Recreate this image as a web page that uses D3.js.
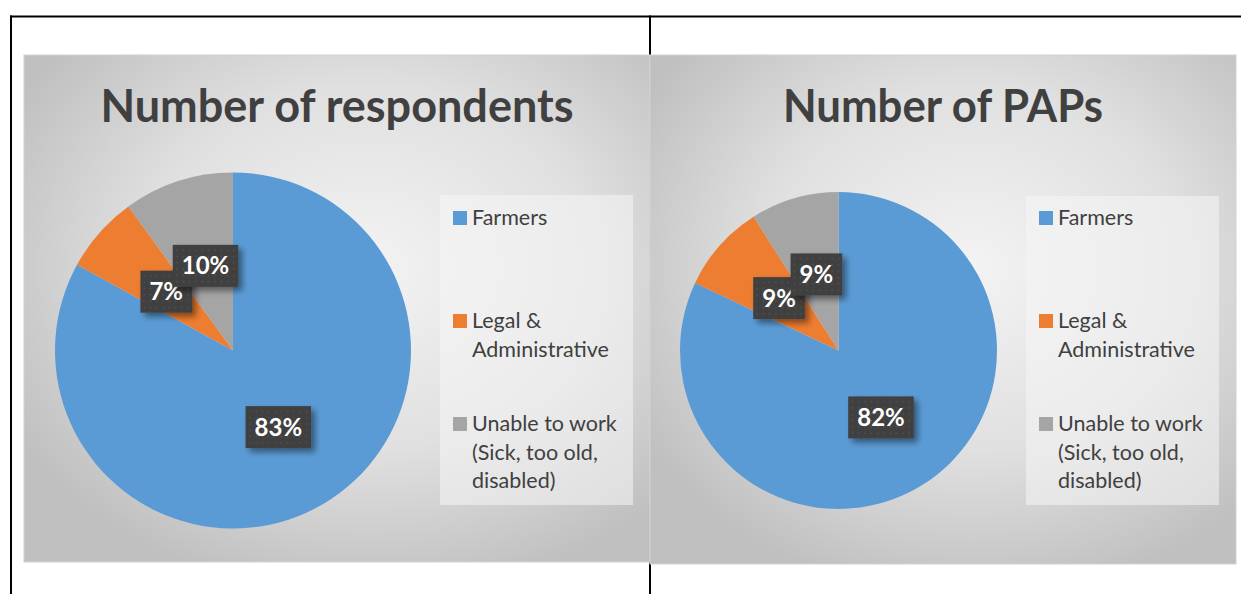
<!DOCTYPE html>
<html>
<head>
<meta charset="utf-8">
<script src="https://cdn.jsdelivr.net/npm/d3@7"></script>
<style>
  html, body { margin: 0; padding: 0; background: #ffffff; }
  svg { display: block; }
  text { font-family: Lato, "Open Sans", "Noto Sans", sans-serif; }
</style>
</head>
<body>
<svg id="chart" width="1241" height="594"></svg>
<script>
// Occupation breakdown of survey respondents and of project-affected persons (PAPs)
const categories = ["Farmers", "Legal & Administrative", "Unable to work (Sick, too old, disabled)"];
const legendLines = [["Farmers"], ["Legal &", "Administrative"], ["Unable to work", "(Sick, too old,", "disabled)"]];
const chartTitles = ["Number of respondents", "Number of PAPs"];
const respondentsShare = [83, 7, 10];
const papsShare = [82, 9, 9];

const sliceColor = d3.scaleOrdinal()
  .domain(categories)
  .range(["#5b9bd5", "#ed7d31", "#a5a5a5"]);

const svg = d3.select("#chart");
const defs = svg.append("defs");

// soft panel background
const bg = defs.append("radialGradient")
  .attr("id", "panelBg")
  .attr("cx", "55%").attr("cy", "42%").attr("r", "65%");
bg.append("stop").attr("offset", "0%").attr("stop-color", "#f3f3f3");
bg.append("stop").attr("offset", "55%").attr("stop-color", "#e0e0e0");
bg.append("stop").attr("offset", "100%").attr("stop-color", "#c0c0c0");

// dotted fill for the data-label boxes
const dots = defs.append("pattern")
  .attr("id", "labelDots")
  .attr("patternUnits", "userSpaceOnUse")
  .attr("width", 6.3).attr("height", 6.3);
dots.append("rect").attr("width", 6.3).attr("height", 6.3).attr("fill", "#3f3f3f");
dots.append("circle").attr("cx", 3.1).attr("cy", 3.1).attr("r", 0.9).attr("fill", "#545454");

const shadow = defs.append("filter")
  .attr("id", "labelShadow")
  .attr("x", "-30%").attr("y", "-30%").attr("width", "170%").attr("height", "170%");
shadow.append("feGaussianBlur").attr("in", "SourceAlpha").attr("stdDeviation", 3).attr("result", "blur");
shadow.append("feOffset").attr("in", "blur").attr("dx", 4).attr("dy", 4).attr("result", "off");
shadow.append("feComponentTransfer").attr("in", "off").attr("result", "soft")
  .append("feFuncA").attr("type", "linear").attr("slope", 0.45);
const merge = shadow.append("feMerge");
merge.append("feMergeNode").attr("in", "soft");
merge.append("feMergeNode").attr("in", "SourceGraphic");

// table rules around the two cells
svg.append("line").attr("x1", 10).attr("x2", 1241).attr("y1", 16.5).attr("y2", 16.5)
  .attr("stroke", "#000").attr("stroke-width", 2);
svg.append("line").attr("x1", 11).attr("x2", 11).attr("y1", 15.5).attr("y2", 594)
  .attr("stroke", "#000").attr("stroke-width", 2);
svg.append("line").attr("x1", 650).attr("x2", 650).attr("y1", 15.5).attr("y2", 594)
  .attr("stroke", "#000").attr("stroke-width", 2);

const panels = [
  { title: chartTitles[0], values: respondentsShare, x: 24, y: 55, w: 626, h: 507,
    cx: 233, cy: 350.5, r: 178, titleW: 473,
    legend: { x: 440, y: 195, w: 193, h: 310 } },
  { title: chartTitles[1], values: papsShare, x: 650, y: 55, w: 586, h: 509,
    cx: 838.5, cy: 350.5, r: 158.5, titleW: 320,
    legend: { x: 1026, y: 196, w: 193, h: 309 } }
];

const pie = d3.pie().sort(null).value(d => d.value).startAngle(0).endAngle(2 * Math.PI);
const legendBaselines = [[225], [328, 357], [431, 460, 488]];

panels.forEach(p => {
  const g = svg.append("g");

  g.append("rect")
    .attr("x", p.x).attr("y", p.y).attr("width", p.w).attr("height", p.h)
    .attr("fill", "url(#panelBg)")
    .attr("stroke", "#d2d2d2").attr("stroke-width", 1);

  g.append("text")
    .attr("x", p.x + p.w / 2).attr("y", 122)
    .attr("text-anchor", "middle")
    .attr("font-size", 45).attr("font-weight", 700)
    .attr("fill", "#404040")
    .attr("textLength", p.titleW).attr("lengthAdjust", "spacingAndGlyphs")
    .text(p.title);

  const data = categories.map((c, i) => ({ category: c, value: p.values[i] }));
  const arcs = pie(data);
  const arc = d3.arc().innerRadius(0).outerRadius(p.r);

  const pg = g.append("g").attr("transform", `translate(${p.cx},${p.cy})`);
  pg.selectAll("path.slice")
    .data(arcs)
    .join("path")
    .attr("class", "slice")
    .attr("d", arc)
    .attr("fill", d => sliceColor(d.data.category));

  // data labels centred on each slice
  arcs.forEach(a => {
    const [lx, ly] = arc.centroid(a);
    const lg = pg.append("g").attr("transform", `translate(${lx},${ly})`);
    const box = lg.append("rect").attr("fill", "url(#labelDots)").attr("filter", "url(#labelShadow)");
    const t = lg.append("text")
      .attr("text-anchor", "middle")
      .attr("y", 8.5)
      .attr("font-size", 24).attr("font-weight", 700)
      .attr("fill", "#ffffff")
      .text(a.data.value + "%");
    const tw = t.node().getComputedTextLength();
    const bw = tw + 18, bh = 42;
    box.attr("x", -bw / 2).attr("y", -bh / 2).attr("width", bw).attr("height", bh);
  });

  // legend
  const L = p.legend;
  const lgd = g.append("g");
  lgd.append("rect")
    .attr("x", L.x).attr("y", L.y).attr("width", L.w).attr("height", L.h)
    .attr("fill", "#f6f6f6").attr("fill-opacity", 0.55);
  categories.forEach((c, i) => {
    const base = legendBaselines[i];
    lgd.append("rect")
      .attr("x", L.x + 13).attr("y", base[0] - 14)
      .attr("width", 14).attr("height", 14)
      .attr("fill", sliceColor(c));
    const t = lgd.append("text")
      .attr("font-size", 21.5)
      .attr("fill", "#404040");
    legendLines[i].forEach((ln, j) => {
      t.append("tspan").attr("x", L.x + 32).attr("y", base[j]).text(ln);
    });
  });
});
</script>
</body>
</html>
